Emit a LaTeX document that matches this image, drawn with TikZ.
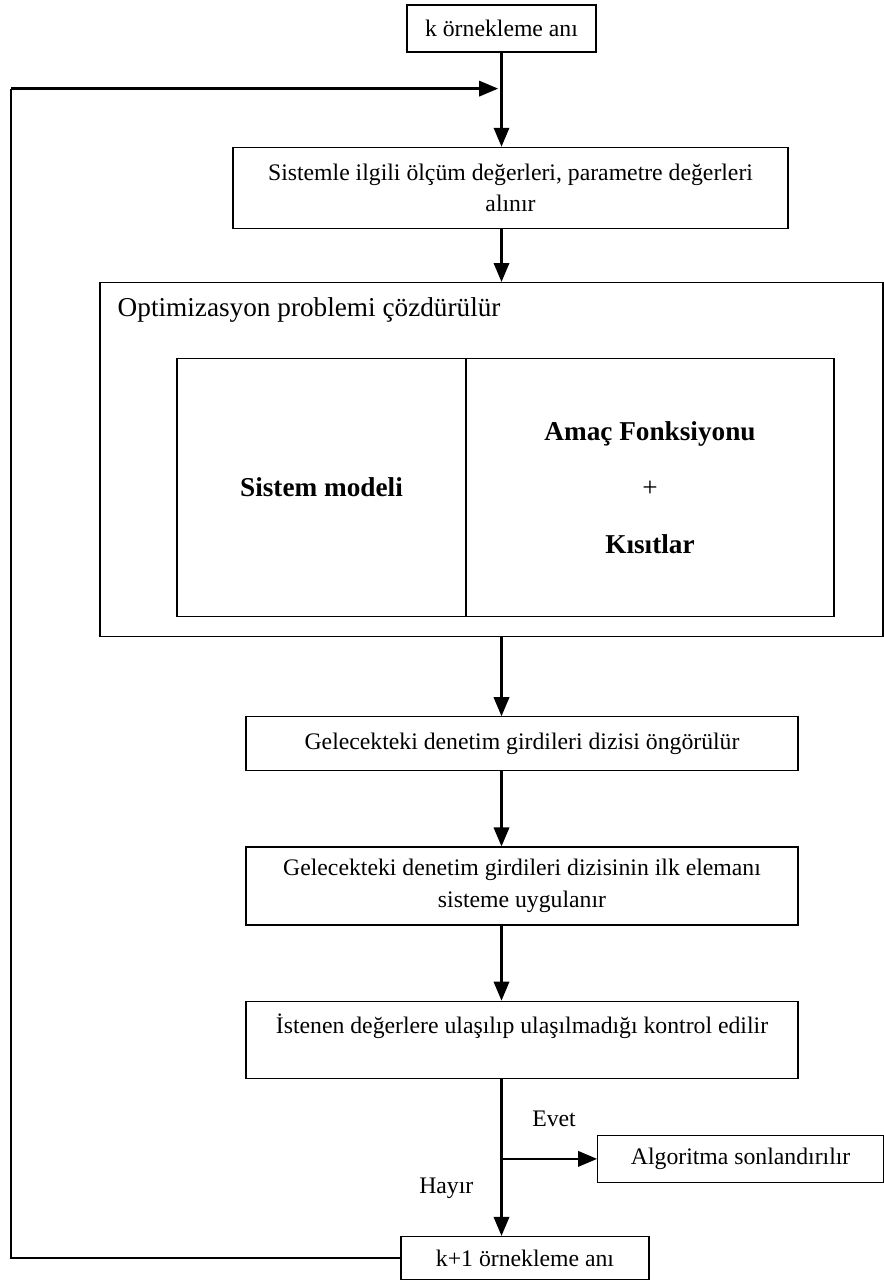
\documentclass[tikz,border=0pt]{standalone}
\usepackage{fontspec}
\setmainfont{Liberation Serif}
\usetikzlibrary{arrows, positioning}

\begin{document}
\begin{tikzpicture}[
            kutu/.style = {
                draw, rectangle,
                align = center,
                line width = 0.7pt,
                font = \fontsize{13.5}{18}\selectfont,
            },
            kalin/.style = {
                draw, rectangle,
                align = center,
                line width = 0.7pt,
                font = \bfseries\fontsize{15.5}{32}\selectfont,
            },
            ok/.style = {
                -triangle 45,
                line width = 1.5pt,
            },
            ince/.style = {
                line width = 0.9pt,
            },
            etiket/.style = {
                font = \fontsize{13.5}{18}\selectfont,
            },
        ]

        \useasboundingbox (0,0) rectangle (17.68,-25.72);

        % Kutular
        \node[kutu, minimum width = 3.78cm, minimum height = 0.94cm] (k) at (10.03,-0.57) {k örnekleme anı};
        \node[kutu, minimum width = 11.1cm, minimum height = 1.62cm, below = 1.88cm of k, xshift = 0.18cm] (sistem)
            {Sistemle ilgili ölçüm değerleri, parametre değerleri \\ alınır};
        \node[kutu, minimum width = 15.66cm, minimum height = 7.08cm, below = 1.06cm of sistem, xshift = -0.38cm] (opt) {};
        \node[etiket, font = \fontsize{15.5}{18}\selectfont, inner sep = 0pt, below right = 0.3cm and 0.36cm of opt.north west] (optbaslik)
            {Optimizasyon problemi çözdürülür};
        \node[kalin, minimum width = 5.78cm, minimum height = 5.16cm, below right = 1.52cm and 1.54cm of opt.north west] (model)
            {Sistem modeli};
        \node[kalin, minimum width = 7.36cm, minimum height = 5.16cm, right = -0.7pt of model] (amac)
            {Amaç Fonksiyonu \\ {\mdseries +} \\ Kısıtlar};
        \node[kutu, minimum width = 11.04cm, minimum height = 1.08cm, below = 1.58cm of opt, xshift = 0.61cm] (gel1)
            {Gelecekteki denetim girdileri dizisi öngörülür};
        \node[kutu, minimum width = 11.04cm, minimum height = 1.56cm, below = 1.5cm of gel1] (gel2)
            {Gelecekteki denetim girdileri dizisinin ilk elemanı \\ sisteme uygulanır};
        \node[kutu, minimum width = 11.04cm, minimum height = 1.54cm, below = 1.5cm of gel2] (kontrol)
            {İstenen değerlere ulaşılıp ulaşılmadığı kontrol edilir \\ \mbox{}};
        \node[kutu, minimum width = 4.96cm, minimum height = 0.86cm, below = 3.14cm of kontrol, xshift = 0.06cm] (kplus)
            {k+1 örnekleme anı};
        \node[kutu, minimum width = 5.72cm, minimum height = 0.94cm, below right = 1.12cm and 1.5cm of kontrol.south] (algoritma)
            {Algoritma sonlandırılır};

        % Yardimci noktalar
        \coordinate[below = 0.72cm of k.south] (geri);
        \coordinate (dal) at (k.south |- algoritma.west);
        \coordinate (sol) at (0.22,0 |- geri);

        % Oklar
        \draw[ok] (k.south) -- (k.south |- sistem.north);
        \draw[ok] (k.south |- sistem.south) -- (k.south |- opt.north);
        \draw[ok] (k.south |- opt.south) -- (k.south |- gel1.north);
        \draw[ok] (k.south |- gel1.south) -- (k.south |- gel2.north);
        \draw[ok] (k.south |- gel2.south) -- (k.south |- kontrol.north);
        \draw[ok] (k.south |- kontrol.south) -- (k.south |- kplus.north)
            node[etiket, pos = 0.7, left = 0.42cm] {Hayır};
        \draw[ok] (dal) -- (algoritma.west)
            node[etiket, pos = 0.55, above = 0.5cm] {Evet};

        % Geri besleme
        \draw[ince] (kplus.west) -- (kplus.west -| sol) -- (sol);
        \draw[ok, shorten >= 2pt] (sol) -- (geri);

    \end{tikzpicture}
\end{document}
